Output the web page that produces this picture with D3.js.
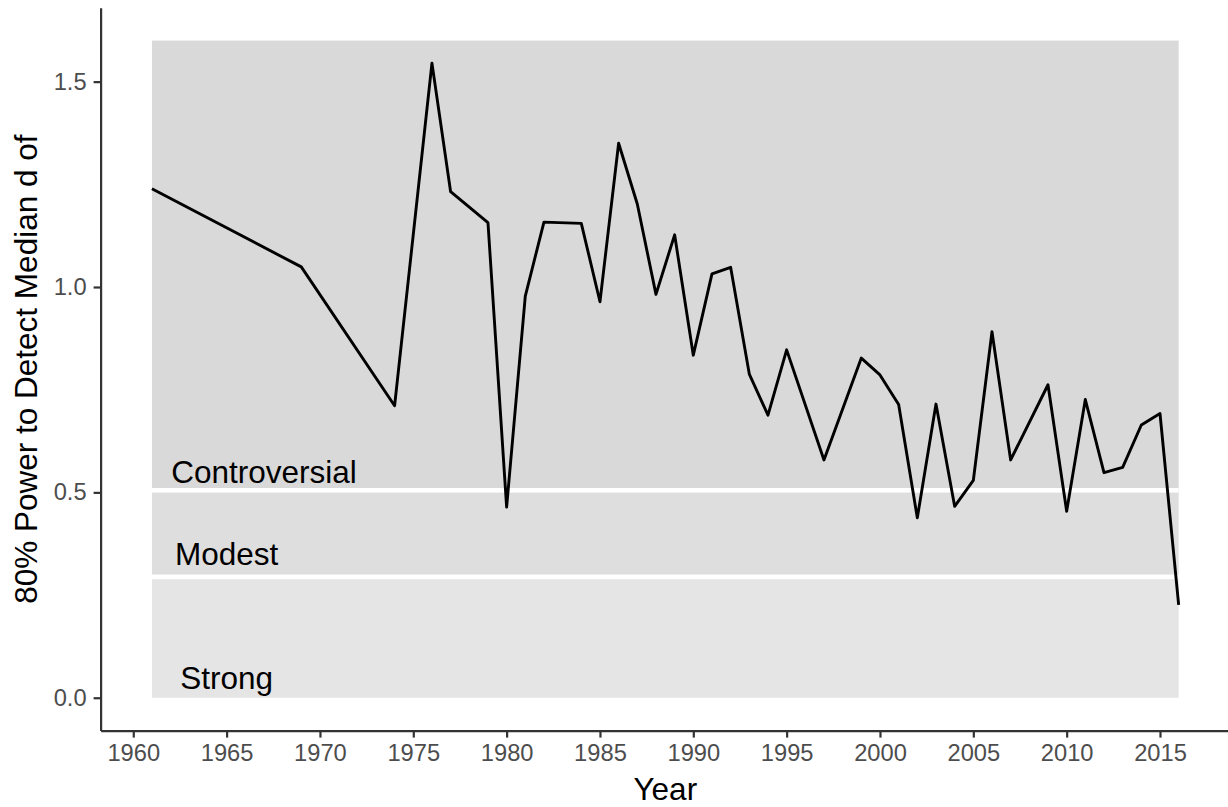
<!DOCTYPE html>
<html>
<head>
<meta charset="utf-8">
<script src="https://cdn.jsdelivr.net/npm/d3@7"></script>
<style>
  html, body { margin: 0; padding: 0; background: #ffffff; }
  svg { display: block; font-family: "Liberation Sans", Arial, sans-serif; }
</style>
</head>
<body>
<svg id="chart" width="1228" height="807"></svg>
<script>
// ---- data ----
const years = [1961, 1969, 1974, 1976, 1977, 1979, 1980, 1981, 1982, 1984, 1985, 1986, 1987, 1988, 1989, 1990, 1991, 1992, 1993, 1994, 1995, 1997, 1999, 2000, 2001, 2002, 2003, 2004, 2005, 2006, 2007, 2009, 2010, 2011, 2012, 2013, 2014, 2015, 2016];
const values = [1.239, 1.049, 0.711, 1.545, 1.232, 1.157, 0.464, 0.978, 1.158, 1.155, 0.964, 1.350, 1.202, 0.982, 1.127, 0.834, 1.032, 1.048, 0.788, 0.688, 0.847, 0.579, 0.827, 0.786, 0.714, 0.438, 0.715, 0.466, 0.529, 0.891, 0.579, 0.762, 0.454, 0.726, 0.548, 0.561, 0.664, 0.692, 0.226];

const bandNames = ["Strong", "Modest", "Controversial"];
const bandLow = [0, 0.3, 0.5];
const bandHigh = [0.3, 0.5, 1.6];
const bandStart = 1961;
const bandEnd = 2016;
const bandColors = ["#e5e5e5", "#dedede", "#d9d9d9"];
const dividerValues = [0.294, 0.505];

const labelX = [1965, 1965, 1967];
const labelY = [0.05, 0.35, 0.55];

const xTicks = [1960, 1965, 1970, 1975, 1980, 1985, 1990, 1995, 2000, 2005, 2010, 2015];
const yTicks = [0.0, 0.5, 1.0, 1.5];

const xTitle = "Year";
const yTitle = "80% Power to Detect Median d of";

// ---- layout ----
const svg = d3.select("#chart");
const x = d3.scaleLinear().domain([1958.25, 2018.75]).range([100.6, 1230]);
const y = d3.scaleLinear().domain([-0.08, 1.68]).range([730.6, 7.7]);

// bands
svg.append("g").selectAll("rect")
  .data(bandNames)
  .join("rect")
  .attr("x", x(bandStart))
  .attr("width", x(bandEnd) - x(bandStart))
  .attr("y", (d, i) => y(bandHigh[i]))
  .attr("height", (d, i) => y(bandLow[i]) - y(bandHigh[i]))
  .attr("fill", (d, i) => bandColors[i]);

// white dividers
svg.append("g").selectAll("line")
  .data(dividerValues)
  .join("line")
  .attr("x1", x(bandStart))
  .attr("x2", x(bandEnd))
  .attr("y1", d => y(d))
  .attr("y2", d => y(d))
  .attr("stroke", "#ffffff")
  .attr("stroke-width", 4.5);

// band labels
svg.append("g").selectAll("text")
  .data(bandNames)
  .join("text")
  .attr("x", (d, i) => x(labelX[i]))
  .attr("y", (d, i) => y(labelY[i]))
  .attr("dy", "0.36em")
  .attr("text-anchor", "middle")
  .attr("font-size", "31.5px")
  .attr("fill", "#000")
  .text(d => d);

// line
const line = d3.line()
  .x((d, i) => x(years[i]))
  .y(d => y(d));
svg.append("path")
  .datum(values)
  .attr("d", line)
  .attr("fill", "none")
  .attr("stroke", "#000")
  .attr("stroke-width", 2.9)
  .attr("stroke-linejoin", "round");

// axes
const xAxis = svg.append("g")
  .attr("transform", `translate(0,${y.range()[0]})`)
  .call(d3.axisBottom(x).tickValues(xTicks).tickFormat(d3.format("d")).tickSize(7).tickSizeOuter(0).tickPadding(7));
const yAxis = svg.append("g")
  .attr("transform", `translate(${x.range()[0]},0)`)
  .call(d3.axisLeft(y).tickValues(yTicks).tickFormat(d3.format(".1f")).tickSize(7).tickSizeOuter(0).tickPadding(7));

[xAxis, yAxis].forEach(g => {
  g.select(".domain").attr("stroke", "#333").attr("stroke-width", 2.2);
  g.selectAll(".tick line").attr("stroke", "#333").attr("stroke-width", 2.2);
  g.selectAll(".tick text").attr("fill", "#4d4d4d").attr("font-size", "23.7px")
    .attr("font-family", "'Liberation Sans', Arial, sans-serif");
});

// titles
svg.append("text")
  .attr("x", (x.range()[0] + x.range()[1]) / 2)
  .attr("y", 800)
  .attr("text-anchor", "middle")
  .attr("font-size", "31.5px")
  .attr("fill", "#000")
  .text(xTitle);

svg.append("text")
  .attr("transform", `translate(37,${(y.range()[0] + y.range()[1]) / 2}) rotate(-90)`)
  .attr("text-anchor", "middle")
  .attr("font-size", "31.5px")
  .attr("fill", "#000")
  .text(yTitle);
</script>
</body>
</html>
